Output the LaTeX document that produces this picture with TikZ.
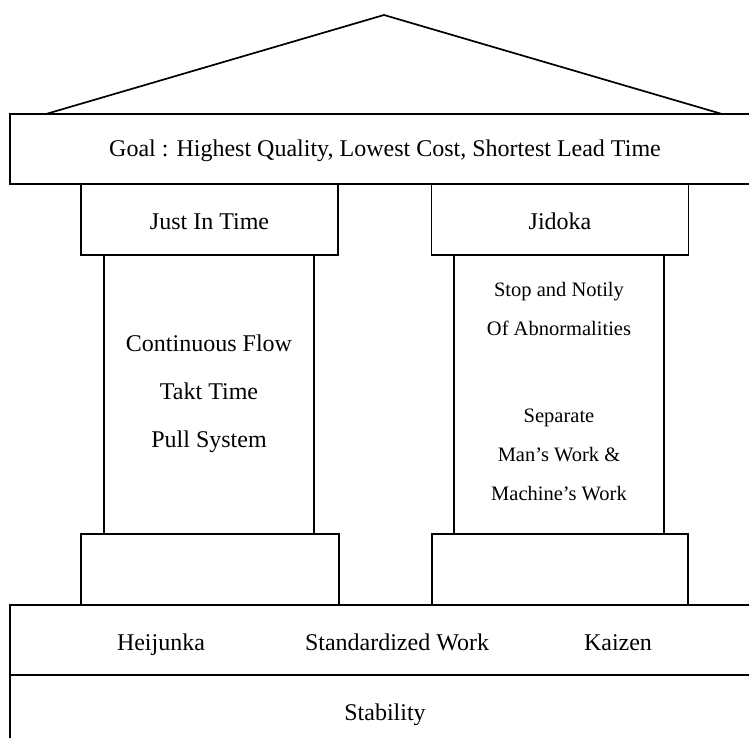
\documentclass[tikz,border=0pt]{standalone}
\usepackage{fontspec}
\setmainfont{Liberation Serif}
\usetikzlibrary{positioning}
\tikzset{
    housebox/.style = {draw, line width=1.7pt, rectangle, inner sep=0pt},
    housetext/.style = {font=\fontsize{24}{48}\selectfont, align=center},
    pillartext/.style = {font=\fontsize{20.5}{39}\selectfont, align=center}
}
\begin{document}
\begin{tikzpicture}[x=1pt,y=-1pt]
                \clip (0,0) rectangle (749,738);

                %% roof
                \coordinate (roofleft) at (46,114);
                \coordinate (roofapex) at (384,15);
                \coordinate (roofright) at (722,114);
                \draw[line width=1.7pt] (roofleft) -- (roofapex) -- (roofright);

                %% goal beam
                \node[housebox, minimum width=750pt, minimum height=70pt] (goal) at (385,149) {};
                \node[housetext, anchor=base] (goaltext) at (385,157)
                    {Goal : Highest Quality, Lowest Cost, Shortest Lead Time};

                %% capitals
                \node[housebox, minimum width=257pt, minimum height=71pt] (jit) at (209.5,219.5) {};
                \node[housebox, minimum width=257pt, minimum height=71pt] (jidoka) at (560,219.5) {};
                \node[housetext, anchor=base] (jitlabel) at (209.5,229) {Just In Time};
                \node[housetext, anchor=base] (jidokalabel) at (560,229) {Jidoka};

                %% pillars
                \node[housebox, minimum width=210pt, minimum height=279pt] (leftpillar) at (209,394.5) {};
                \node[housebox, minimum width=210pt, minimum height=279pt] (rightpillar) at (559,394.5) {};
                \node[housetext] (jittext) at (209,394) {Continuous Flow\\Takt Time\\Pull System};
                \node[pillartext] (jidokatext) at (559,392)
                    {Stop and Notily\\Of Abnormalities\\[48pt]Separate\\Man's Work \&\\Machine's Work};

                %% pillar bases
                \node[housebox, minimum width=258pt, minimum height=71pt] (leftbase) at (210,569.5) {};
                \node[housebox, minimum width=256pt, minimum height=71pt] (rightbase) at (560,569.5) {};

                %% foundation
                \node[housebox, minimum width=750pt, minimum height=70pt] (foundation) at (385,640) {};
                \node[housetext, anchor=base] (heijunka) at (161,650) {Heijunka};
                \node[housetext, anchor=base] (stdwork) at (397,650) {Standardized Work};
                \node[housetext, anchor=base] (kaizen) at (618,650) {Kaizen};

                \node[housebox, minimum width=750pt, minimum height=100pt] (stabilitybox) at (385,725) {};
                \node[housetext, anchor=base] (stability) at (385,720) {Stability};

            \end{tikzpicture}
\end{document}
